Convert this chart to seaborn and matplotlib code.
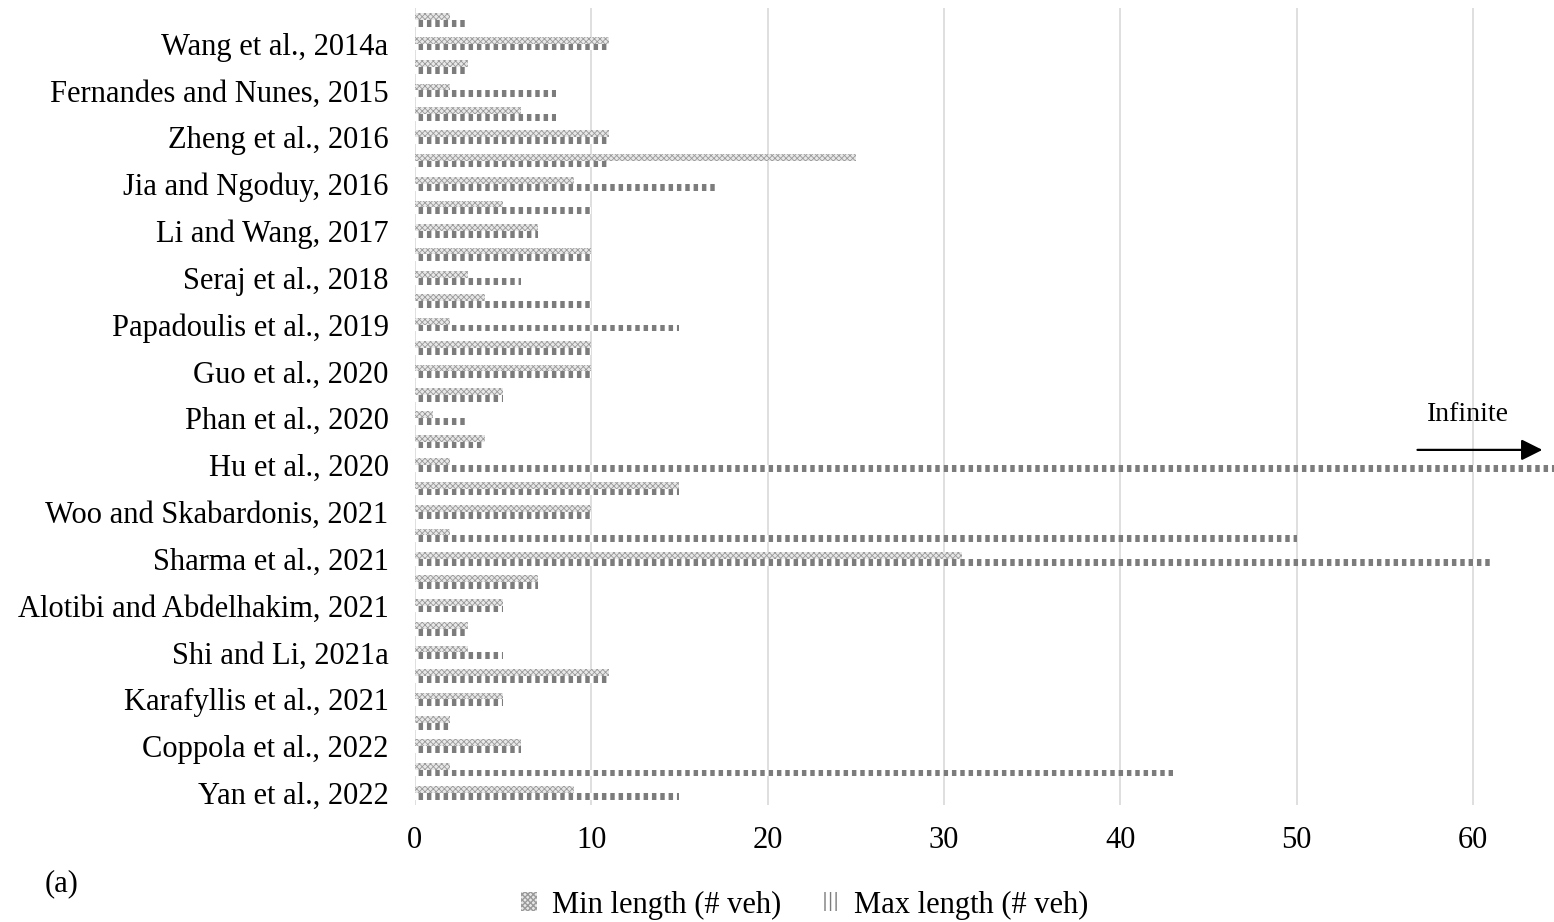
import matplotlib.pyplot as plt
from matplotlib.patches import Patch
import pandas as pd
import seaborn as sns

# Studies (each one has two rows of bars)
studies = [
    'Wang et al., 2014a', 'Fernandes and Nunes, 2015', 'Zheng et al., 2016',
    'Jia and Ngoduy, 2016', 'Li and Wang, 2017', 'Seraj et al., 2018',
    'Papadoulis et al., 2019', 'Guo et al., 2020', 'Phan et al., 2020',
    'Hu et al., 2020', 'Woo and Skabardonis, 2021', 'Sharma et al., 2021',
    'Alotibi and Abdelhakim, 2021', 'Shi and Li, 2021a', 'Karafyllis et al., 2021',
    'Coppola et al., 2022', 'Yan et al., 2022',
]

# min / max platoon length (# veh), two rows per study, top to bottom
min_len = [2, 11, 3, 2, 6, 11, 25, 9, 5, 7, 10, 3, 4, 2, 10, 10, 5, 1,
           4, 2, 15, 10, 2, 31, 7, 5, 3, 3, 11, 5, 2, 6, 2, 9]
max_len = [3, 11, 3, 8, 8, 11, 11, 17, 10, 7, 10, 6, 10, 15, 10, 10, 5, 3,
           4, float('inf'), 15, 10, 50, 61, 7, 5, 3, 5, 11, 5, 2, 6, 43, 15]

x_ticks = [0, 10, 20, 30, 40, 50, 60]
x_max = 64.6

sns.set_style('whitegrid')
plt.rcParams['font.family'] = ['Liberation Serif', 'DejaVu Serif']
plt.rcParams['text.color'] = 'black'
plt.rcParams['xtick.color'] = 'black'
plt.rcParams['ytick.color'] = 'black'

n = len(min_len)
row_ids = [f'r{i}' for i in range(n)]
# "infinite" bar is drawn past the right edge
max_plot = [v if v != float('inf') else x_max + 1 for v in max_len]

df = pd.DataFrame({
    'row': row_ids * 2,
    'length': min_len + max_plot,
    'series': ['Min length (# veh)'] * n + ['Max length (# veh)'] * n,
})

fig = plt.figure(figsize=(15.54, 9.22), dpi=100)
ax = fig.add_axes([0.267, 0.1272, 0.733, 0.8637])

sns.barplot(data=df, y='row', x='length', hue='series', orient='h',
            dodge=True, width=0.58, errorbar=None, legend=False,
            palette=['#cccccc', '#888888'], ax=ax)

min_style = dict(facecolor='#e8e8e8', edgecolor='#9a9a9a', hatch='xxxxxx')
max_style = dict(facecolor='white', edgecolor='#7c7c7c', hatch='||')

for p in ax.containers[0]:
    p.set(**min_style)
    p.set_linewidth(0)
    if hasattr(p, 'set_hatch_linewidth'):
        p.set_hatch_linewidth(0.6)
for p in ax.containers[1]:
    p.set(**max_style)
    p.set_linewidth(0)
    if hasattr(p, 'set_hatch_linewidth'):
        p.set_hatch_linewidth(3.2)

ax.set_xlim(0, x_max)
ax.set_ylim(n - 0.5, -0.5)
ax.set_xticks(x_ticks)
ax.set_yticks([2 * k + 1 for k in range(len(studies))])
ax.set_yticklabels(studies)
ax.set_xlabel('')
ax.set_ylabel('')
ax.tick_params(axis='both', length=0, labelsize=22, labelcolor='black')
ax.tick_params(axis='x', pad=15)
ax.tick_params(axis='y', pad=19)
ax.grid(axis='x', color='#d9d9d9', linewidth=1.2)
ax.grid(axis='y', visible=False)
for s in ax.spines.values():
    s.set_visible(False)

# infinite marker
ax.text(59.7, 16.85, 'Infinite', ha='center', va='center', fontsize=20)
ax.annotate('', xy=(64.1, 18.35), xytext=(56.7, 18.35),
            arrowprops=dict(arrowstyle='-|>', color='black', lw=1.6,
                            mutation_scale=32), annotation_clip=False)

fig.text(45 / 1554, 1 - 884 / 922, '(a)', fontsize=22, va='center')

handles = [Patch(linewidth=0, **min_style),
           Patch(linewidth=0, facecolor='white', edgecolor='#7c7c7c', hatch='|||')]
fig.legend(handles, ['Min length (# veh)', 'Max length (# veh)'],
           loc='center', bbox_to_anchor=(805 / 1554, 1 - 905 / 922), ncol=2,
           frameon=False, fontsize=22, handlelength=0.5, handleheight=0.6,
           handletextpad=0.5, columnspacing=1.4)

fig.savefig('out.png', dpi=100)
